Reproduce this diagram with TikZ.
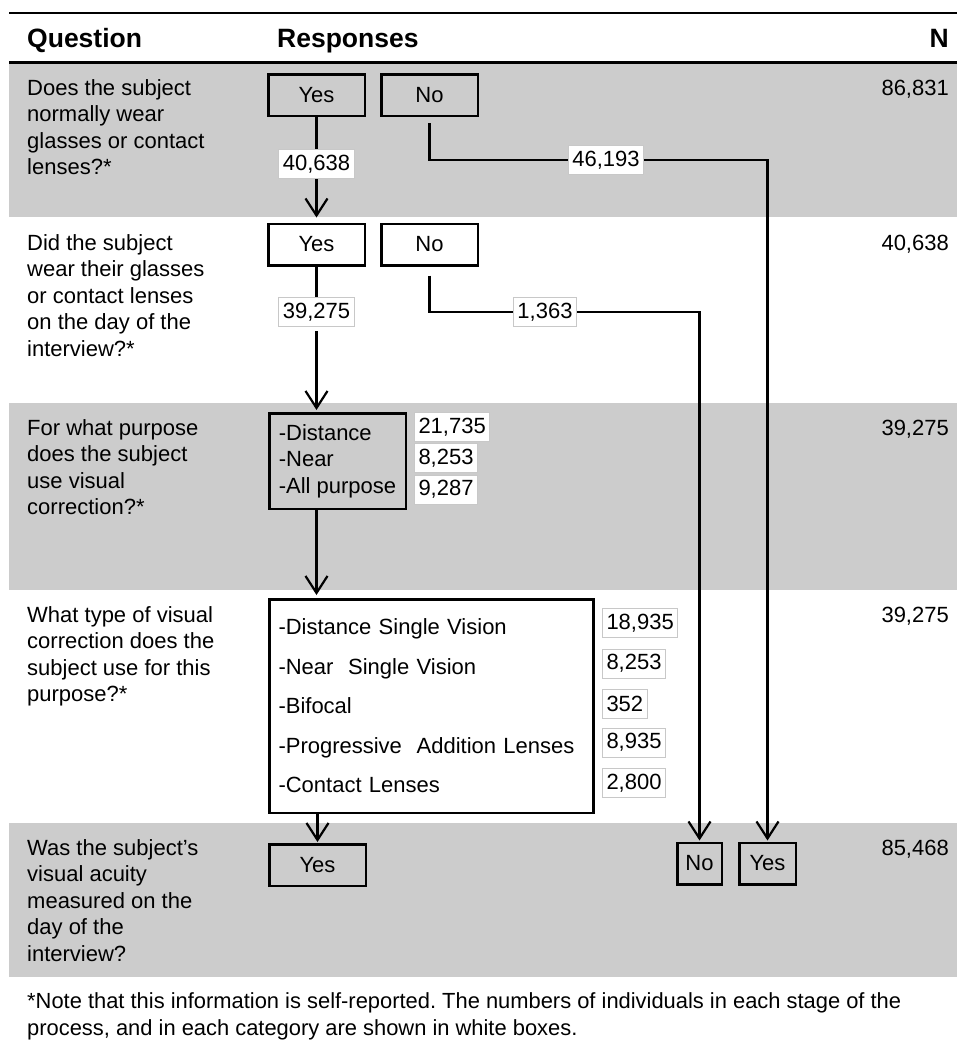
\documentclass[tikz,border=0pt]{standalone}
\usepackage{fontspec}
\setmainfont{Liberation Sans}
\usepackage{xcolor}
\usepackage{tikz}
\usetikzlibrary{arrows.meta,positioning,calc}

\definecolor{bandgray}{RGB}{204,204,204}
\definecolor{labgray}{RGB}{200,200,200}
\newcommand{\bodyfont}{\fontsize{22}{26.5}\selectfont}
\newcommand{\headfont}{\fontsize{26.5}{30}\selectfont\bfseries}
\frenchspacing

\begin{document}
\begin{tikzpicture}[x=1pt, y=-1pt,
  every node/.style={font=\bodyfont, inner sep=0pt},
  question/.style={anchor=north west, align=left},
  heading/.style={font=\headfont},
  resp/.style={draw, line width=2.5pt, minimum width=96.5pt, minimum height=41.5pt},
  count/.style={draw=labgray, fill=white, line width=1pt, minimum height=29pt, inner xsep=4pt},
  total/.style={anchor=base east},
  flow/.style={line width=2.2pt, -{Straight Barb[length=17pt,width=22pt]}}]
  \useasboundingbox (0,0) rectangle (957,1049);

  % bands and rules
  \fill[bandgray] (9,64) rectangle (957,217);
  \fill[bandgray] (9,403) rectangle (957,590);
  \fill[bandgray] (9,823) rectangle (957,977);
  \draw[line width=2pt] (9,13) -- (957,13);
  \draw[line width=3pt] (9,63) -- (957,63);

  \node[heading, anchor=base west] (hq) at (27,48) {Question};
  \node[heading, anchor=base west] (hr) at (277,48) {Responses};
  \node[heading, anchor=base east] (hn) at (949,48) {N};

  % questions
  \node[question] (q1) at (27,79) {Does the subject\\normally wear\\glasses or contact\\lenses?*};
  \node[question] (q2) at (27,234) {Did the subject\\wear their glasses\\or contact lenses\\on the day of the\\interview?*};
  \node[question] (q3) at (27,419) {For what purpose\\does the subject\\use visual\\correction?*};
  \node[question] (q4) at (27,606) {What type of visual\\correction does the\\subject use for this\\purpose?*};
  \node[question] (q5) at (27,839) {Was the subject’s\\visual acuity\\measured on the\\day of the\\interview?};

  % totals
  \node[total] (n1) at (949,95) {86,831};
  \node[total] (n2) at (949,250) {40,638};
  \node[total] (n3) at (949,435) {39,275};
  \node[total] (n4) at (949,622) {39,275};
  \node[total] (n5) at (949,855) {85,468};

  % responses
  \node[resp] (yes1) at (316.5,95) {Yes};
  \node[resp] (no1) at (429.5,95) {No};
  \node[resp] (yes2) at (316.5,244.5) {Yes};
  \node[resp] (no2) at (429.5,244.5) {No};
  \node[resp, fill=bandgray, minimum width=136.5pt, minimum height=95.5pt, align=left] (purp) at (337.5,461)
    {-Distance\\-Near\\-All purpose};
  \node[resp, fill=white, text width=306pt, inner xsep=9pt, minimum height=213.5pt, align=left] (kind) at (431.5,706)
    {-Distance Single Vision\\[13pt]-Near\ \ Single Vision\\[13pt]-Bifocal\\[13pt]-Progressive\ \ Addition Lenses\\[13pt]-Contact Lenses};
  \node[resp] (yes5) at (317.5,865) {Yes};
  \node[resp, minimum width=44.5pt] (no5) at (699.5,863.5) {No};
  \node[resp, minimum width=56.5pt] (yesR) at (767.5,863.5) {Yes};

  % counts
  \node[count] (c40) at (316.5,164) {40,638};
  \node[count] (c46) at (606,160) {46,193};
  \node[count] (c39) at (316.5,312) {39,275};
  \node[count] (c13) at (545,312) {1,363};
  \node[count, anchor=west] (dist) at (414,427) {21,735};
  \node[count, anchor=west] (near) at (414,458) {8,253};
  \node[count, anchor=west] (allp) at (414,489.5) {9,287};
  \foreach \v/\y [count=\i] in {{18,935}/623, {8,253}/663.5, {352}/703.5, {8,935}/742.5, {2,800}/783}
    \node[count, anchor=west] (k\i) at (602,\y) {\v};

  % flow
  \draw[flow, shorten >=5pt] (yes1) -- (c40) -- (yes2);
  \draw[flow, shorten <=4pt, shorten >=2pt] (yes2) -- (c39) -- (yes2 |- purp.north);
  \draw[flow, shorten >=3pt] (purp.south -| yes2) -- (kind.north -| yes2);
  \draw[flow, shorten >=1pt] (kind.south -| yes5) -- (yes5);
  \draw[flow, shorten >=1pt] ([yshift=-6pt]no1.south) |- (c46) -| (yesR);
  \draw[flow, shorten >=1pt] ([yshift=-9pt]no2.south) |- (c13) -| (no5);

  \node[anchor=north west, align=left, font=\fontsize{21.9}{27}\selectfont] (note) at (27,992)
    {*Note that this information is self-reported. The numbers of individuals in each stage of the\\process, and in each category are shown in white boxes.};
\end{tikzpicture}
\end{document}
